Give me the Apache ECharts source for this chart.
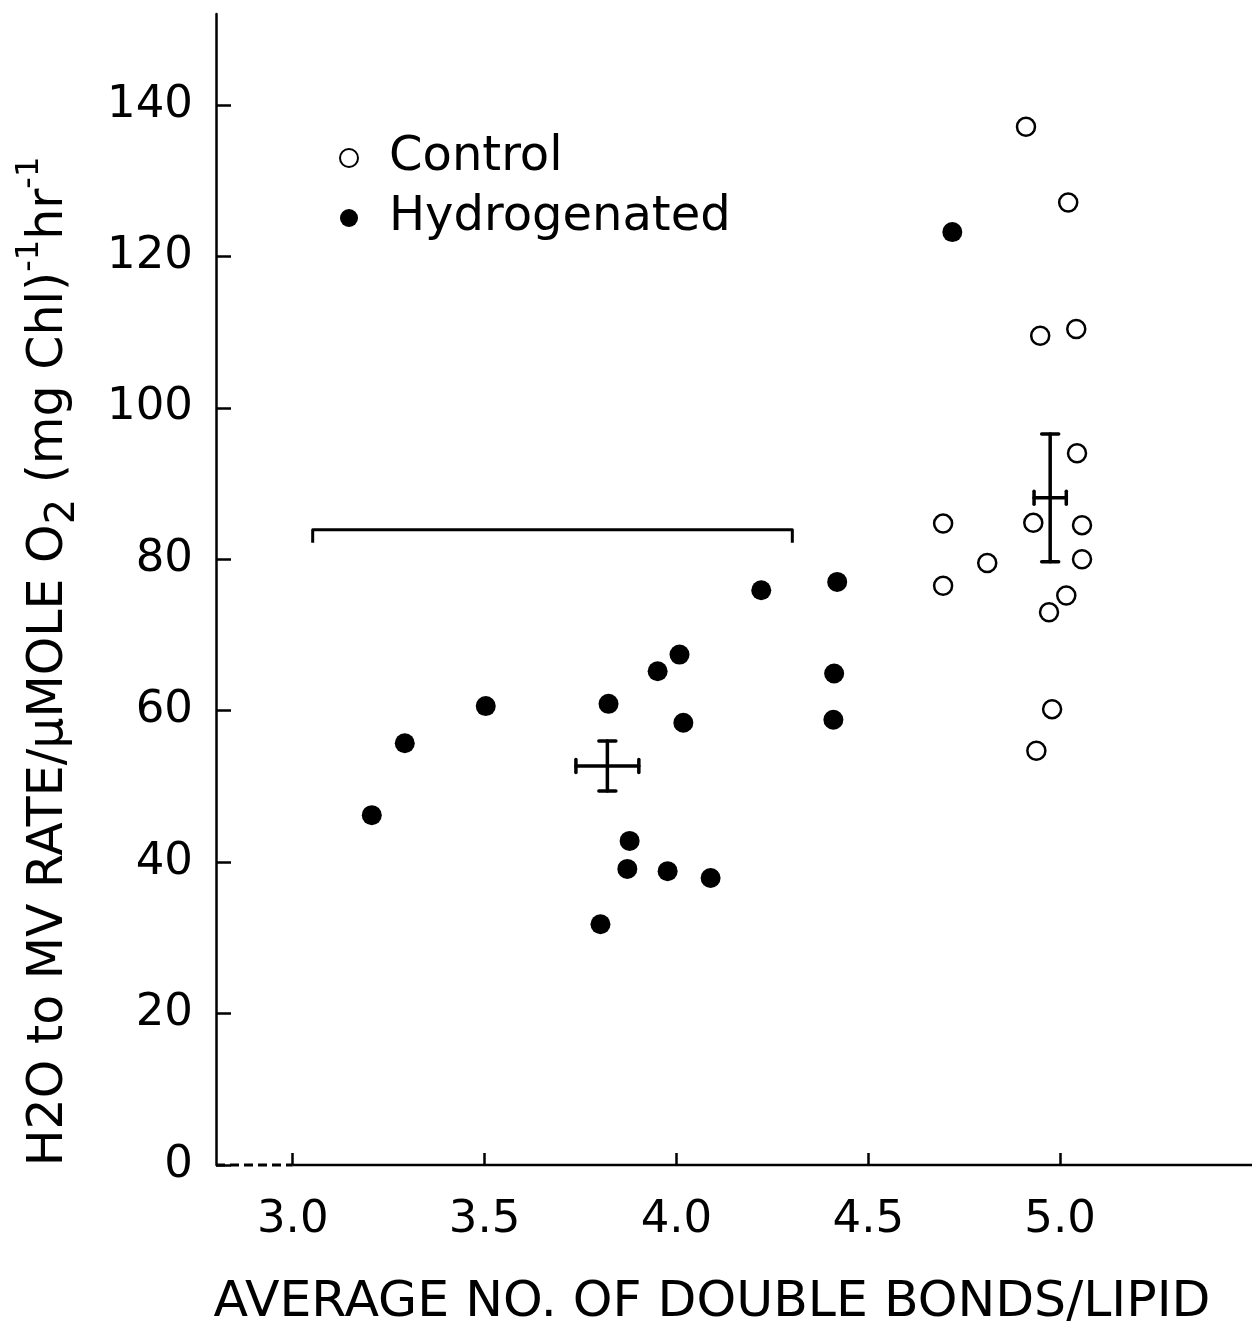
<!DOCTYPE html>
<html>
<head>
<meta charset="utf-8">
<script src="https://cdn.jsdelivr.net/npm/echarts@6/dist/echarts.min.js"></script>
<style>
html,body{margin:0;padding:0;background:#fff;}
#chart{width:1252px;height:1322px;}
</style>
</head>
<body>
<div id="chart"></div>
<script>
// ---- data ----
const xTicks = [3.0, 3.5, 4.0, 4.5, 5.0];
const yTicks = [0, 20, 40, 60, 80, 100, 120, 140];

const controlX = [4.911, 5.021, 4.948, 5.042, 5.044, 4.695, 4.930, 5.057, 4.810, 5.057, 4.695, 5.016, 4.971, 4.979, 4.938];
const controlY = [137.1, 127.1, 109.5, 110.4, 94.0, 84.7, 84.8, 84.5, 79.5, 80.0, 76.5, 75.2, 73.0, 60.2, 54.7];

const hydroX = [4.719, 4.221, 4.419, 4.008, 3.951, 4.411, 3.503, 3.823, 4.018, 4.409, 3.292, 3.206, 3.878, 3.872, 3.977, 4.089, 3.802];
const hydroY = [123.2, 75.9, 77.0, 67.4, 65.2, 64.9, 60.6, 60.9, 58.4, 58.8, 55.7, 46.2, 42.8, 39.1, 38.8, 37.9, 31.8];

const meanGroups = ['Control', 'Hydrogenated'];
const meanX = [4.974, 3.820];
const meanY = [88.1, 52.7];
const meanXErr = [0.042, 0.082];
const meanYErr = [8.45, 3.3];

const bracketX = [3.052, 4.302];
const bracketY = [83.9];

const xMin = 2.8, xMax = 5.5, yMin = 0, yMax = 152;

// ---- chart ----
const FONT = 'DejaVu Sans';
const chart = echarts.init(document.getElementById('chart'), null, {renderer: 'canvas'});

function zip(a, b) { return a.map((v, i) => [v, b[i]]); }

function renderErr(params, api) {
  const x = api.value(0), y = api.value(1), xe = api.value(2), ye = api.value(3);
  const l = api.coord([x - xe, y]), r = api.coord([x + xe, y]);
  const t = api.coord([x, y + ye]), b = api.coord([x, y - ye]);
  const capH = 6.5, capV = 8.5;
  const st = {stroke: '#000', lineWidth: 3.5, lineCap: 'round'};
  return {
    type: 'group',
    children: [
      {type: 'line', shape: {x1: l[0], y1: l[1], x2: r[0], y2: r[1]}, style: st},
      {type: 'line', shape: {x1: l[0], y1: l[1] - capH, x2: l[0], y2: l[1] + capH}, style: st},
      {type: 'line', shape: {x1: r[0], y1: r[1] - capH, x2: r[0], y2: r[1] + capH}, style: st},
      {type: 'line', shape: {x1: t[0], y1: t[1], x2: b[0], y2: b[1]}, style: st},
      {type: 'line', shape: {x1: t[0] - capV, y1: t[1], x2: t[0] + capV, y2: t[1]}, style: st},
      {type: 'line', shape: {x1: b[0] - capV, y1: b[1], x2: b[0] + capV, y2: b[1]}, style: st}
    ]
  };
}

function renderBracket(params, api) {
  const a = api.coord([api.value(0), api.value(2)]);
  const b = api.coord([api.value(1), api.value(2)]);
  const drop = 13;
  return {
    type: 'polyline',
    shape: {points: [[a[0], a[1] + drop], [a[0], a[1]], [b[0], b[1]], [b[0], b[1] + drop]]},
    style: {stroke: '#000', lineWidth: 3, fill: 'none', lineJoin: 'round'}
  };
}

const option = {
  animation: false,
  backgroundColor: '#fff',
  grid: {left: 216, right: 0, top: 14, bottom: 157, containLabel: false, outerBoundsMode: 'none'},
  legend: {
    data: ['Control', 'Hydrogenated'],
    orient: 'vertical',
    left: 334,
    top: 128,
    itemWidth: 70,
    itemHeight: 18,
    itemGap: 10,
    selectedMode: false,
    textStyle: {fontFamily: FONT, fontSize: 48, color: '#000', lineHeight: 50}
  },
  xAxis: {
    type: 'value',
    min: xMin,
    max: xMax,
    name: 'AVERAGE NO. OF DOUBLE BONDS/LIPID',
    nameLocation: 'middle',
    nameGap: 113,
    nameTextStyle: {fontFamily: FONT, fontSize: 50.5, color: '#000', lineHeight: 50, padding: [0, 44, 0, 0]},
    axisLine: {show: false},
    axisTick: {show: true, inside: true, length: 12, customValues: xTicks, lineStyle: {color: '#000', width: 2.5}},
    axisLabel: {
      customValues: xTicks,
      margin: 33,
      fontFamily: FONT, fontSize: 45, color: '#000',
      formatter: v => Number(v).toFixed(1)
    },
    splitLine: {show: false}
  },
  yAxis: {
    type: 'value',
    min: yMin,
    max: yMax,
    name: 'H2O to MV RATE/\u03bcMOLE O{sub|2} (mg Chl){sup|-1}hr{sup|-1}',
    nameLocation: 'middle',
    nameGap: 132,
    nameTextStyle: {
      fontFamily: FONT, fontSize: 49, color: '#000', lineHeight: 70,
      padding: [0, 144, 0, 0],
      rich: {
        sub: {fontFamily: FONT, fontSize: 40, lineHeight: 40, color: '#000', verticalAlign: 'bottom'},
        sup: {fontFamily: FONT, fontSize: 32, lineHeight: 32, color: '#000', verticalAlign: 'top'}
      }
    },
    axisLine: {show: true, lineStyle: {color: '#000', width: 2.5}},
    axisTick: {show: true, inside: true, length: 15, customValues: yTicks, lineStyle: {color: '#000', width: 2.5}},
    axisLabel: {
      customValues: yTicks,
      margin: 23,
      fontFamily: FONT, fontSize: 45, color: '#000'
    },
    splitLine: {show: false}
  },
  series: [
    {
      name: 'x-axis dashed',
      type: 'line',
      data: [[xMin, yMin], [xTicks[0], yMin]],
      symbol: 'none',
      clip: false,
      silent: true,
      lineStyle: {color: '#000', width: 3, type: [9, 5]},
      z: 1
    },
    {
      name: 'x-axis',
      type: 'line',
      data: [[xTicks[0], yMin], [xMax, yMin]],
      symbol: 'none',
      clip: false,
      silent: true,
      lineStyle: {color: '#000', width: 2.5},
      z: 1
    },
    {
      name: 'Control',
      type: 'scatter',
      data: zip(controlX, controlY),
      symbol: 'circle',
      symbolSize: 18,
      itemStyle: {color: '#fff', borderColor: '#000', borderWidth: 2.5, opacity: 1},
      z: 3
    },
    {
      name: 'Hydrogenated',
      type: 'scatter',
      data: zip(hydroX, hydroY),
      symbol: 'circle',
      symbolSize: 20,
      itemStyle: {color: '#000', opacity: 1},
      z: 3
    },
    {
      name: 'Mean',
      type: 'custom',
      renderItem: renderErr,
      data: meanGroups.map((g, i) => [meanX[i], meanY[i], meanXErr[i], meanYErr[i]]),
      clip: false,
      silent: true,
      z: 4
    },
    {
      name: 'Bracket',
      type: 'custom',
      renderItem: renderBracket,
      data: [[bracketX[0], bracketX[1], bracketY[0]]],
      clip: false,
      silent: true,
      z: 2
    }
  ]
};
chart.setOption(option);
</script>
</body>
</html>
